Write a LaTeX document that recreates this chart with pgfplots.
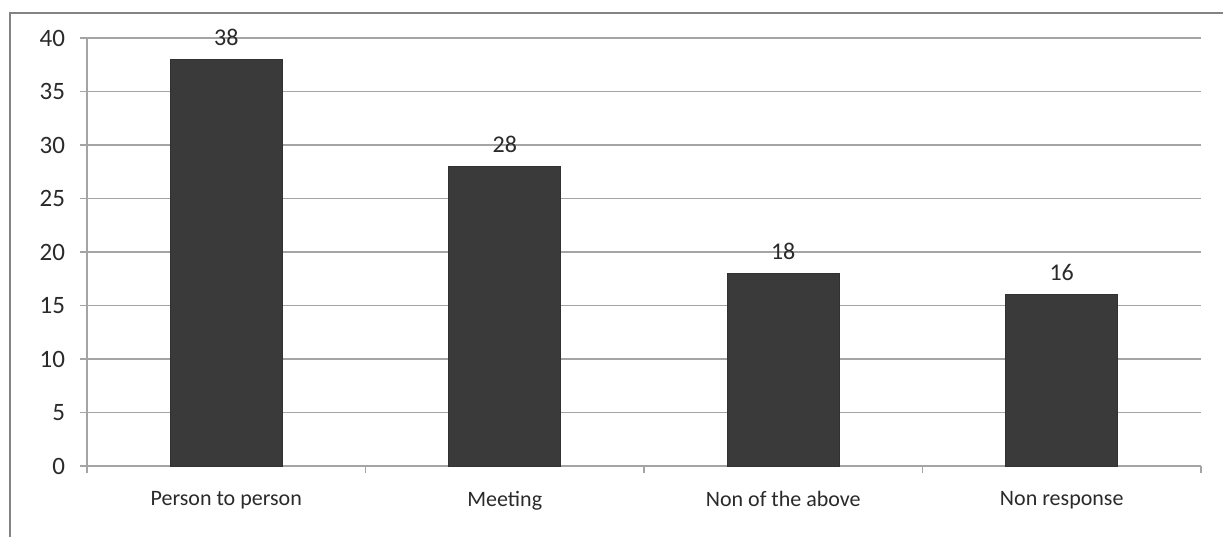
\documentclass[border=0pt]{standalone}
\usepackage{fontspec}
\setmainfont{Carlito}
\usepackage{pgfplots}
\pgfplotsset{compat=1.18}
\definecolor{barc}{HTML}{3A3A3A}
\definecolor{gridc}{HTML}{A4A4A4}
\definecolor{txt}{HTML}{2A2A2A}
\begin{document}
\begin{tikzpicture}
% picture is 1223 x 537 px at 0.5pt per px
\path[use as bounding box] (0,0) rectangle (611.5pt,268.5pt);
\draw[gridc!80!black, line width=1pt] (5pt,0pt) -- (5pt,262pt) -- (611.5pt,262pt);
\begin{axis}[
  at={(43.5pt,35.5pt)}, anchor=south west,
  scale only axis, width=557pt, height=214pt,
  xmin=0.5, xmax=4.5, ymin=0, ymax=40,
  axis x line*=bottom, axis y line*=left,
  axis line style={gridc, line width=0.8pt},
  ytick={0,5,...,40},
  ymajorgrids, grid style={gridc, line width=0.8pt},
  tick align=outside, major tick length=3.5pt,
  tick style={gridc, line width=0.8pt},
  xtick={0.5,1.5,2.5,3.5,4.5}, xticklabels={},
  extra x ticks={1,2,3,4},
  extra x tick labels={Person to person, Meeting, Non of the above, Non response},
  extra x tick style={major tick length=0pt,
    tick label style={font=\fontsize{11}{13}\selectfont, text=txt, yshift=-9pt}},
  yticklabel style={font=\fontsize{12.5}{14}\selectfont, text=txt, xshift=-4pt},
  /pgf/number format/assume math mode=true,
  ybar, bar width=56pt,
  nodes near coords,
  every node near coord/.append style={font=\fontsize{12}{14}\selectfont, text=txt, yshift=3.5pt},
]
\addplot[fill=barc, draw=barc!85!black] coordinates {(1,38) (2,28) (3,18) (4,16)};
\end{axis}
\end{tikzpicture}
\end{document}
